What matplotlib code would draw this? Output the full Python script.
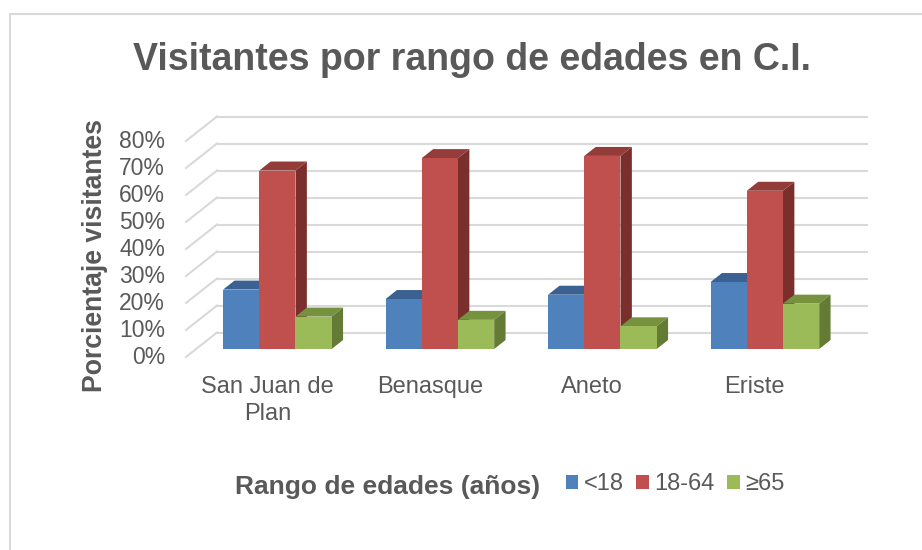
import matplotlib
matplotlib.use("Agg")
import matplotlib.pyplot as plt
from matplotlib.lines import Line2D
from matplotlib.patches import Polygon
from matplotlib.transforms import ScaledTranslation

plt.rcParams["font.family"] = ["Liberation Sans", "DejaVu Sans"]

# ── data ─────────────────────────────────────────────────────────────────────
places = ["San Juan de\nPlan", "Benasque", "Aneto", "Eriste"]
under_18 = [22.0, 18.5, 20.1, 24.8]
adults = [66.1, 70.7, 71.5, 58.6]
over_65 = [12.0, 10.8, 8.4, 16.8]
y_ticks = [0, 10, 20, 30, 40, 50, 60, 70, 80]
y_labels = ["0%", "10%", "20%", "30%", "40%", "50%", "60%", "70%", "80%"]

series = [
    ("<18", under_18, "#4f81bd", "#3a6191", "#2f5378"),
    ("18-64", adults, "#c0504d", "#943c3a", "#7b2f2d"),
    ("≥65", over_65, "#9bbb59", "#76923f", "#637b34"),
]

TEXT = "#595959"
GRID = "#d9d9d9"
W, H = 922, 550

# fake 3D: full floor depth, in data units (31 px right, 24.5 px up)
DX = 31 / 162.5
DY = 24.5 / 2.7
BAR_W = 36.2 / 162.5
D_FRONT, D_BACK = 0.327, 0.694

fig = plt.figure(figsize=(9.22, 5.5), dpi=100)
ax = fig.add_axes([186 / W, 1 - 357 / H, 650 / W, 216 / H])
ax.set_xlim(-0.5, 3.5)
ax.set_ylim(0, 80)
for s in ax.spines.values():
    s.set_visible(False)

# walls
for v in y_ticks:
    ax.plot([-0.5, -0.5 + DX], [v, v + DY], color=GRID, lw=1.5, clip_on=False, zorder=1)
    ax.plot([-0.5 + DX, 3.5 + DX], [v + DY, v + DY], color=GRID, lw=1.5, clip_on=False, zorder=1)

# bars, left to right so the nearer faces overlap properly
for i, (name, vals, front, top, side) in enumerate(series):
    for j, v in enumerate(vals):
        x0 = j + (i - 1.5) * BAR_W + D_FRONT * DX
        x1 = x0 + BAR_W
        y0 = D_FRONT * DY
        ox = (D_BACK - D_FRONT) * DX
        oy = (D_BACK - D_FRONT) * DY
        z = 2 + i
        ax.add_patch(Polygon([(x0, y0 + v), (x1, y0 + v), (x1 + ox, y0 + v + oy), (x0 + ox, y0 + v + oy)],
                             fc=top, ec="none", clip_on=False, zorder=z))
        ax.add_patch(Polygon([(x1, y0), (x1 + ox, y0 + oy), (x1 + ox, y0 + v + oy), (x1, y0 + v)],
                             fc=side, ec="none", clip_on=False, zorder=z))
        ax.bar(x0, v, width=BAR_W, bottom=y0, align="edge", color=front, clip_on=False,
               zorder=z + 0.5, label=name if j == 0 else None)

ax.set_yticks(y_ticks, y_labels)
ax.set_xticks(range(len(places)), places)
ax.tick_params(axis="y", length=0, pad=15, labelsize=16.5, labelcolor=TEXT)
ax.tick_params(axis="x", length=0, pad=14, labelsize=17, labelcolor=TEXT)
for lab in ax.get_xticklabels():
    lab.set_linespacing(1.28)
# y labels sit a little above their lines
lift = ScaledTranslation(0, 2 / 100, fig.dpi_scale_trans)
for lab in ax.get_yticklabels():
    lab.set_transform(lab.get_transform() + lift)

fig.text(472 / W, 1 - 69.5 / H, "Visitantes por rango de edades en C.I.", fontsize=27, fontweight="bold",
         color=TEXT, ha="center", va="baseline")
fig.text(95 / W, 1 - 255 / H, "Porcientaje visitantes", fontsize=19.2, fontweight="bold", color=TEXT,
         rotation=90, ha="center", va="center")
fig.text(388 / W, 1 - 487 / H, "Rango de edades (años)", fontsize=19, fontweight="bold", color=TEXT,
         ha="center", va="center")

fig.legend(loc="center left", bbox_to_anchor=(566 / W, 1 - 484 / H), ncol=3, frameon=False, fontsize=17,
           labelcolor=TEXT, handlelength=0.52, handleheight=0.52, handletextpad=0.22, columnspacing=0.55,
           borderpad=0, borderaxespad=0)

# chart frame, only left and top show in the crop
for xs, ys in [((10, 10), (550, 14)), ((10, 922), (14, 14))]:
    fig.add_artist(Line2D([x / W for x in xs], [1 - y / H for y in ys], color=GRID, lw=1.5))

fig.savefig("out.png", dpi=100)
